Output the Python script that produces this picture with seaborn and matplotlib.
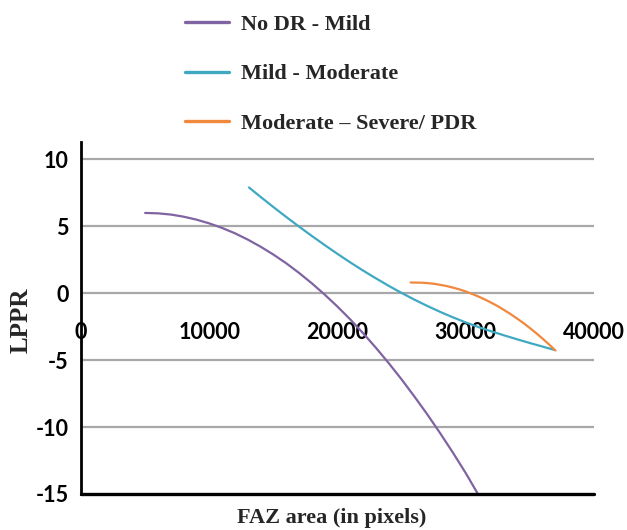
import numpy as np
import pandas as pd
import matplotlib
matplotlib.use("Agg")
import matplotlib.pyplot as plt
import seaborn as sns

# values (x = FAZ area in pixels, y = LPPR)
no_dr_mild_x = [5000, 6000, 7000, 8000, 9000, 10000, 11000, 12000, 13000,
                14000, 15000, 16000, 17000, 18000, 19000, 20000, 21000, 22000,
                23000, 24000, 25000, 26000, 27000, 28000, 29000, 30000, 30950]
no_dr_mild_y = [6.0, 5.97, 5.88, 5.72, 5.5, 5.22, 4.88, 4.48, 4.01,
                3.48, 2.89, 2.24, 1.52, 0.74, -0.1, -1.0, -1.96, -2.99,
                -4.08, -5.23, -6.44, -7.72, -9.05, -10.45, -11.91, -13.44, -15.0]

mild_moderate_x = [13100, 14000, 15000, 16000, 17000, 18000, 19000, 20000,
                   21000, 22000, 23000, 24000, 25000, 26000, 27000, 28000,
                   29000, 30000, 31000, 32000, 33000, 34000, 35000, 36000, 36900]
mild_moderate_y = [7.9, 7.2, 6.44, 5.7, 4.98, 4.28, 3.6, 2.94,
                   2.3, 1.69, 1.11, 0.55, 0.02, -0.48, -0.95, -1.39,
                   -1.8, -2.18, -2.53, -2.85, -3.15, -3.44, -3.72, -3.99, -4.23]

moderate_severe_x = [25700, 26500, 27000, 27500, 28000, 28500, 29000, 29500,
                     30000, 30500, 31000, 31500, 32000, 32500, 33000, 33500,
                     34000, 34500, 35000, 35500, 36000, 36500, 37000]
moderate_severe_y = [0.8, 0.79, 0.76, 0.71, 0.63, 0.54, 0.42, 0.29,
                     0.13, -0.05, -0.25, -0.47, -0.71, -0.97, -1.26, -1.56,
                     -1.89, -2.23, -2.6, -2.99, -3.4, -3.83, -4.28]

series_names = ["No DR - Mild", "Mild - Moderate", "Moderate \u2013 Severe/ PDR"]
series_colors = ["#8064A2", "#3FA9C2", "#F0883E"]

x_ticks = [0, 10000, 20000, 30000, 40000]
y_ticks = [-15, -10, -5, 0, 5, 10]

df = pd.concat([
    pd.DataFrame({"x": no_dr_mild_x, "y": no_dr_mild_y, "group": series_names[0]}),
    pd.DataFrame({"x": mild_moderate_x, "y": mild_moderate_y, "group": series_names[1]}),
    pd.DataFrame({"x": moderate_severe_x, "y": moderate_severe_y, "group": series_names[2]}),
], ignore_index=True)

sns.set_style("white")
serif = ["Liberation Serif", "DejaVu Serif"]
sans = ["Lato", "DejaVu Sans"]

fig = plt.figure(figsize=(6.27, 5.30), dpi=100)
ax = fig.add_axes([81 / 627, 1 - 494 / 530, (594 - 81) / 627, (494 - 142) / 530])

sns.lineplot(data=df, x="x", y="y", hue="group", hue_order=series_names,
             palette=series_colors, sort=False, estimator=None,
             linewidth=1.6, ax=ax, legend=False)

ax.set_xlim(0, 40000)
ax.set_ylim(-15, 11.3)
ax.set_xticks(x_ticks)
ax.set_yticks(y_ticks)
ax.set_xticklabels([str(t) for t in x_ticks])
ax.set_yticklabels([str(t) for t in y_ticks])

# horizontal grid lines (the bottom one is the black axis line)
for t in y_ticks[1:]:
    ax.axhline(t, color="#a8a8a8", linewidth=1.6, zorder=0)
ax.axhline(-15, color="black", linewidth=2.4, clip_on=False, zorder=3)

# x tick labels sit on the y = 0 line, like the Excel chart
ax.spines["bottom"].set_position(("data", 0))
ax.spines["bottom"].set_visible(False)
ax.spines["top"].set_visible(False)
ax.spines["right"].set_visible(False)
ax.spines["left"].set_color("black")
ax.spines["left"].set_linewidth(2.0)

ax.tick_params(axis="x", length=0, pad=21)
ax.tick_params(axis="y", length=0, pad=9)
for lab in ax.get_xticklabels() + ax.get_yticklabels():
    lab.set_family(sans)
    lab.set_fontweight("bold")
    lab.set_fontsize(15.5)
    lab.set_color("black")

ax.set_xlabel("")
ax.set_ylabel("")
fig.text(332 / 627, 1 - 518 / 530, "FAZ area (in pixels)", ha="center", va="center",
         family=serif, fontweight="bold", fontsize=16)
fig.text(21 / 627, 1 - 320 / 530, "LPPR", ha="center", va="center", rotation=90,
         family=serif, fontweight="bold", fontsize=18)

handles = [plt.Line2D([], [], color=c, linewidth=2.4) for c in series_colors]
fig.legend(handles, series_names, loc="center left",
           bbox_to_anchor=(185 / 627, 1 - 74 / 530), frameon=False,
           borderpad=0, borderaxespad=0, handlelength=2.0, handletextpad=0.5,
           labelspacing=1.3, prop={"family": serif, "weight": "bold", "size": 16})

fig.savefig("out.png", dpi=100)
